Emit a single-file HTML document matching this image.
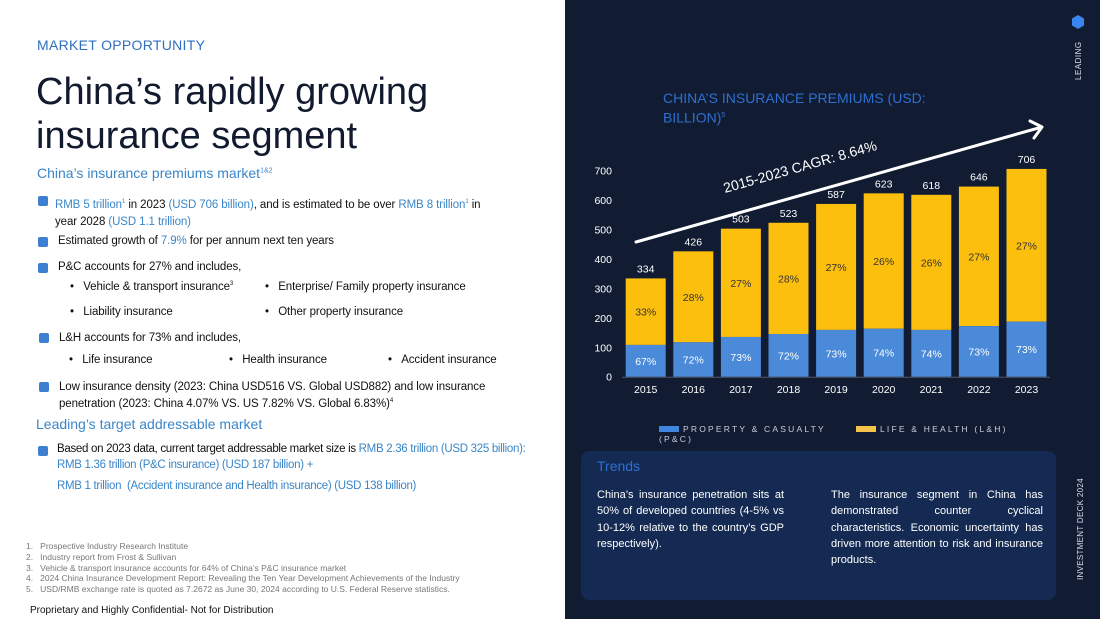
<!DOCTYPE html>
<html><head><meta charset="utf-8"><style>
*{margin:0;padding:0;box-sizing:border-box}
body{width:1100px;height:619px;overflow:hidden;background:#fff;font-family:"Liberation Sans",sans-serif;position:relative}
.a{position:absolute;white-space:nowrap}
.b{color:#3a86c8}
.sq{position:absolute;width:10px;height:10px;background:#3d7fd0;border-radius:2px}
.t{font-size:11.5px;color:#111;letter-spacing:-0.1px}
.t .b{color:#3a86c8}
</style></head><body>
<div class="a" style="left:37px;top:37px;font-size:14px;color:#2f6fc0;letter-spacing:0.3px">MARKET OPPORTUNITY</div>
<div class="a" style="left:36px;top:70px;font-size:38px;line-height:44px;color:#111a2e;letter-spacing:0px">China’s rapidly growing<br>insurance segment</div>
<div class="a" style="left:37px;top:165px;font-size:14px;color:#3a86c8">China’s insurance premiums market<sup style="font-size:7px">1&amp;2</sup></div>
<div class="sq" style="left:38px;top:196px"></div>
<div class="a t" style="left:55px;top:194px;line-height:17px"><span class="b">RMB 5 trillion<sup style="font-size:6px">1</sup></span> in 2023 <span class="b">(USD 706 billion)</span>, and is estimated to be over <span class="b">RMB 8 trillion<sup style="font-size:6px">1</sup></span> in<br>year 2028 <span class="b">(USD 1.1 trillion)</span></div>
<div class="sq" style="left:38px;top:237px"></div>
<div class="a t" style="left:58px;top:235px">Estimated growth of <span class="b">7.9%</span> for per annum next ten years</div>
<div class="sq" style="left:38px;top:263px"></div>
<div class="a t" style="left:58px;top:261px">P&amp;C accounts for 27% and includes,</div>
<div class="a t" style="left:70px;top:281px">•&nbsp;&nbsp;&nbsp;Vehicle &amp; transport insurance<sup style="font-size:6px">3</sup></div>
<div class="a t" style="left:265px;top:281px">•&nbsp;&nbsp;&nbsp;Enterprise/ Family property insurance</div>
<div class="a t" style="left:70px;top:306px">•&nbsp;&nbsp;&nbsp;Liability insurance</div>
<div class="a t" style="left:265px;top:306px">•&nbsp;&nbsp;&nbsp;Other property insurance</div>
<div class="sq" style="left:39px;top:333px"></div>
<div class="a t" style="left:59px;top:332px">L&amp;H accounts for 73% and includes,</div>
<div class="a t" style="left:69px;top:354px">•&nbsp;&nbsp;&nbsp;Life insurance</div>
<div class="a t" style="left:229px;top:354px">•&nbsp;&nbsp;&nbsp;Health insurance</div>
<div class="a t" style="left:388px;top:354px">•&nbsp;&nbsp;&nbsp;Accident insurance</div>
<div class="sq" style="left:39px;top:382px"></div>
<div class="a t" style="left:59px;top:380px;line-height:14px">Low insurance density (2023: China USD516 VS. Global USD882) and low insurance<br>penetration (2023: China 4.07% VS. US 7.82% VS. Global 6.83%)<sup style="font-size:6px">4</sup></div>
<div class="a" style="left:36px;top:416px;font-size:14px;color:#3a86c8">Leading’s target addressable market</div>
<div class="sq" style="left:38px;top:446px"></div>
<div class="a t" style="left:57px;top:443px;letter-spacing:-0.3px">Based on 2023 data, current target addressable market size is <span class="b">RMB 2.36 trillion (USD 325 billion):</span></div>
<div class="a t" style="left:57px;top:459px;letter-spacing:-0.3px"><span class="b">RMB 1.36 trillion (P&amp;C insurance) (USD 187 billion) +</span></div>
<div class="a t" style="left:57px;top:480px;letter-spacing:-0.3px"><span class="b">RMB 1 trillion&nbsp; (Accident insurance and Health insurance) (USD 138 billion)</span></div>
<div class="a" style="left:26px;top:541px;font-size:8.5px;line-height:10.8px;color:#777">1.&nbsp;&nbsp; Prospective Industry Research Institute<br>2.&nbsp;&nbsp; Industry report from Frost &amp; Sullivan<br>3.&nbsp;&nbsp; Vehicle &amp; transport insurance accounts for 64% of China’s P&amp;C insurance market<br>4.&nbsp;&nbsp; 2024 China Insurance Development Report: Revealing the Ten Year Development Achievements of the Industry<br>5.&nbsp;&nbsp; USD/RMB exchange rate is quoted as 7.2672 as June 30, 2024 according to U.S. Federal Reserve statistics.</div>
<div class="a" style="left:30px;top:605px;font-size:10px;color:#111">Proprietary and Highly Confidential- Not for Distribution</div>

<div class="a" style="left:565px;top:0;width:535px;height:619px;background:#111c33"></div>
<svg class="a" style="left:1070px;top:14px" width="16" height="16"><polygon points="8,1 14,4.5 14,11.5 8,15 2,11.5 2,4.5" fill="#3a86f0"/></svg>
<div class="a" style="left:1074px;top:80px;transform:rotate(-90deg);transform-origin:0 0;font-size:8px;color:#dde;letter-spacing:0.5px">LEADING</div>
<div class="a" style="left:1076px;top:580px;transform:rotate(-90deg);transform-origin:0 0;font-size:8px;color:#dde;letter-spacing:0.3px">INVESTMENT DECK 2024</div>
<div class="a" style="left:663px;top:90px;font-size:14px;line-height:17px;color:#2f6fd0">CHINA’S INSURANCE PREMIUMS (USD:<br>BILLION)<sup style="font-size:7px">5</sup></div>

<svg id="chart" class="a" style="left:565px;top:0" width="535" height="450"></svg>

<div class="a" style="left:659px;top:424px;font-size:8.5px;line-height:10px;color:#ccd;letter-spacing:2.2px"><span style="display:inline-block;width:20px;height:6px;background:#3f86e0;margin-right:4px"></span>PROPERTY &amp; CASUALTY<br>(P&amp;C)</div>
<div class="a" style="left:856px;top:424px;font-size:8.5px;color:#ccd;letter-spacing:2.2px"><span style="display:inline-block;width:20px;height:6px;background:#f5c24a;margin-right:4px"></span>LIFE &amp; HEALTH (L&amp;H)</div>

<div class="a" style="left:581px;top:451px;width:475px;height:149px;background:#142a52;border-radius:8px"></div>
<div class="a" style="left:597px;top:458px;font-size:14px;color:#2f6fd0">Trends</div>
<div class="a" style="left:597px;top:487px;width:187px;white-space:normal;text-align:justify;font-size:11px;line-height:16.3px;color:#fff">China’s insurance penetration sits at 50% of developed countries (4-5% vs 10-12% relative to the country’s GDP respectively).</div>
<div class="a" style="left:831px;top:487px;width:212px;white-space:normal;text-align:justify;font-size:11px;line-height:16.3px;color:#fff">The insurance segment in China has demonstrated counter cyclical characteristics. Economic uncertainty has driven more attention to risk and insurance products.</div>

<script>
const years=["2015","2016","2017","2018","2019","2020","2021","2022","2023"];
const totals=[334,426,503,523,587,623,618,646,706];
const pcValues=[108,117,135,145,159,163,159,172,187];
const lowLabels=["67%","72%","73%","72%","73%","74%","74%","73%","73%"];
const highLabels=["33%","28%","27%","28%","27%","26%","26%","27%","27%"];
const yTicks=[0,100,200,300,400,500,600,700];
const svg=document.getElementById('chart');
const NS='http://www.w3.org/2000/svg';
const ox=565;
const y=v=>376.7-v*0.2943;
const x=i=>625.7-ox+i*47.6;
const bw=40;
function mk(tag,attrs,txt){const e=document.createElementNS(NS,tag);for(const k in attrs)e.setAttribute(k,attrs[k]);if(txt!==undefined)e.textContent=txt;svg.appendChild(e);return e;}
yTicks.forEach(v=>{const t=mk('text',{x:47,y:y(v)+4,'text-anchor':'end','font-size':10.5,fill:'#fff'},v);

});
mk('line',{x1:57,x2:485,y1:y(0)+0.5,y2:y(0)+0.5,stroke:'#556',"stroke-width":1});
years.forEach((yr,i)=>{
 const r1=mk('rect',{x:x(i),y:y(totals[i]),width:bw,height:y(pcValues[i])-y(totals[i]),fill:'#fcbf0e'});
 
 
 const r2=mk('rect',{x:x(i),y:y(pcValues[i]),width:bw,height:y(0)-y(pcValues[i]),fill:'#4a8ad8'});
 
 
 const cx=x(i)+bw/2;
 const tl=mk('text',{x:cx,y:y(totals[i])-6,'text-anchor':'middle','font-size':10.5,fill:'#fff'},totals[i]);
 
 
 mk('text',{x:cx,y:(y(totals[i])+y(pcValues[i]))/2+4,'text-anchor':'middle','font-size':10.5,fill:'#333'},highLabels[i]);
 mk('text',{x:cx,y:(y(pcValues[i])+y(0))/2+4,'text-anchor':'middle','font-size':10.5,fill:'#fff'},lowLabels[i]);
 const xl=mk('text',{x:cx,y:393,'text-anchor':'middle','font-size':10.5,fill:'#fff'},yr);
 
 
});
const ar=mk('path',{d:'M71,242 L477,127 M465,121 L477,127 L469,138',stroke:'#fff','stroke-width':3,fill:'none','stroke-linecap':'round','stroke-linejoin':'round'});


const cg=mk('text',{x:160,y:193,'font-size':14,fill:'#fff',transform:'rotate(-15.8 160 193)'},'2015-2023 CAGR: 8.64%');


</script>
</body></html>
